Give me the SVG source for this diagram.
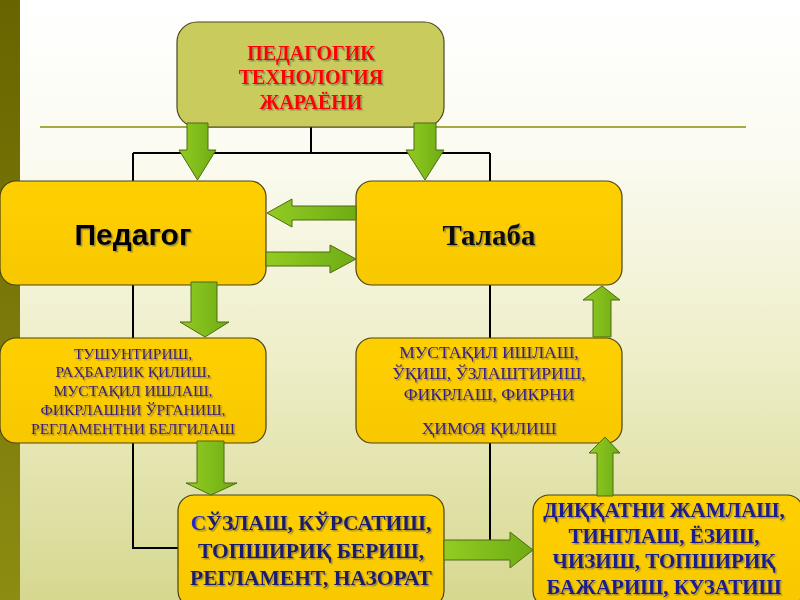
<svg xmlns="http://www.w3.org/2000/svg" width="800" height="600" viewBox="0 0 800 600">
<defs>
  <linearGradient id="bg" x1="0" y1="0" x2="0" y2="1">
    <stop offset="0" stop-color="#ffffff"/>
    <stop offset="0.25" stop-color="#fbfbf2"/>
    <stop offset="0.6" stop-color="#eeeec8"/>
    <stop offset="1" stop-color="#d6d890"/>
  </linearGradient>
  <linearGradient id="bar" x1="0" y1="0" x2="0" y2="1">
    <stop offset="0" stop-color="#686400"/>
    <stop offset="1" stop-color="#8c8c12"/>
  </linearGradient>
  <linearGradient id="gold" x1="0" y1="0" x2="0" y2="1">
    <stop offset="0" stop-color="#ffd000"/>
    <stop offset="1" stop-color="#f8c800"/>
  </linearGradient>
  <linearGradient id="grn" x1="0" y1="0" x2="1" y2="0">
    <stop offset="0" stop-color="#92cc22"/>
    <stop offset="1" stop-color="#6eac14"/>
  </linearGradient>
  <filter id="sh" x="-10%" y="-20%" width="120%" height="140%">
    <feDropShadow dx="1.5" dy="1.5" stdDeviation="0.6" flood-color="#555" flood-opacity="0.55"/>
  </filter>
  <style>
    .box{fill:url(#gold);stroke:#4a4410;stroke-width:1.2}
    .top{fill:#c9cc5c;stroke:#4a4a20;stroke-width:1.2}
    .line{fill:none;stroke:#000;stroke-width:2}
    .arr{fill:url(#grn);stroke:#4f6a10;stroke-width:1}
    .t{text-anchor:middle;filter:url(#sh)}
    .red{font-family:"Liberation Serif",serif;font-weight:bold;font-size:20px;fill:#ff0000}
    .small{font-family:"Liberation Serif",serif;font-size:15.5px;fill:#3e1a78}
    .med{font-family:"Liberation Serif",serif;font-size:17.5px;fill:#3a1a88}
    .big{font-family:"Liberation Serif",serif;font-weight:bold;font-size:21.5px;fill:#1e1e6e}
    .big2{font-family:"Liberation Serif",serif;font-weight:bold;font-size:21px;fill:#1a1a90}
  </style>
</defs>
<rect x="0" y="0" width="800" height="600" fill="url(#bg)"/>
<rect x="0" y="0" width="20" height="600" fill="url(#bar)"/>
<line x1="40" y1="127" x2="746" y2="127" stroke="#a6a840" stroke-width="2"/>

<g id="connector-lines">
  <path class="line" d="M311,127 V153 M133,153 H490 M133,153 V181 M490,153 V181"/>
  <path class="line" d="M133,285 V338 M133,443 V548 H179"/>
  <path class="line" d="M490,285 V338 M490,443 V541"/>
</g>

<g id="node-process">
  <rect class="top" x="177" y="22" width="267" height="105" rx="20"/>
  <text class="t red" x="311" y="60">ПЕДАГОГИК</text>
  <text class="t red" x="311" y="84">ТЕХНОЛОГИЯ</text>
  <text class="t red" x="311" y="109">ЖАРАЁНИ</text>
</g>

<g id="node-pedagog">
  <rect class="box" x="0" y="181" width="266" height="104" rx="16"/>
  <text class="t" x="133" y="245" style="font-family:'Liberation Sans',sans-serif;font-weight:bold;font-size:30px;fill:#000">Педагог</text>
</g>

<g id="node-talaba">
  <rect class="box" x="356" y="181" width="266" height="104" rx="16"/>
  <text class="t" x="489" y="245" style="font-family:'Liberation Serif',serif;font-weight:bold;font-size:29px;fill:#111">Талаба</text>
</g>

<g id="node-teacher-actions">
  <rect class="box" x="0" y="338" width="266" height="105" rx="16"/>
  <text class="t small" x="133" y="359">ТУШУНТИРИШ,</text>
  <text class="t small" x="133" y="377">РАҲБАРЛИК ҚИЛИШ,</text>
  <text class="t small" x="133" y="396">МУСТАҚИЛ ИШЛАШ,</text>
  <text class="t small" x="133" y="415">ФИКРЛАШНИ  ЎРГАНИШ,</text>
  <text class="t small" x="133" y="434">РЕГЛАМЕНТНИ БЕЛГИЛАШ</text>
</g>

<g id="node-student-actions">
  <rect class="box" x="356" y="338" width="266" height="105" rx="16"/>
  <text class="t med" x="489" y="358">МУСТАҚИЛ ИШЛАШ,</text>
  <text class="t med" x="489" y="379">ЎҚИШ, ЎЗЛАШТИРИШ,</text>
  <text class="t med" x="489" y="400">ФИКРЛАШ, ФИКРНИ</text>
  <text class="t med" x="489" y="434">ҲИМОЯ ҚИЛИШ</text>
</g>

<g id="node-teacher-methods">
  <rect class="box" x="178" y="495" width="266" height="112" rx="16"/>
  <text class="t big" x="311" y="530"><tspan fill="#2828c8">С</tspan>ЎЗЛАШ, КЎРСАТИШ,</text>
  <text class="t big" x="311" y="558">ТОПШИРИҚ БЕРИШ,</text>
  <text class="t big" x="311" y="585">РЕГЛАМЕНТ, НАЗОРАТ</text>
</g>

<g id="node-student-methods">
  <rect class="box" x="533" y="495" width="270" height="112" rx="16"/>
  <text class="t big2" x="664" y="517">ДИҚҚАТНИ ЖАМЛАШ,</text>
  <text class="t big2" x="664" y="543">ТИНГЛАШ, ЁЗИШ,</text>
  <text class="t big2" x="664" y="568">ЧИЗИШ, ТОПШИРИҚ</text>
  <text class="t big2" x="664" y="594">БАЖАРИШ, КУЗАТИШ</text>
</g>

<g id="connector-arrows">
  <polygon class="arr" points="187,123 208,123 208,150 216,150 197.5,180 179,150 187,150"/>
  <polygon class="arr" points="414,123 436,123 436,150 444,150 425,180 406,150 414,150"/>
  <polygon class="arr" points="356,206 292,206 292,199 267,213 292,227 292,220 356,220"/>
  <polygon class="arr" points="266,252 330,252 330,245 356,259 330,273 330,266 266,266"/>
  <polygon class="arr" points="191,282 217,282 217,322 229,322 205,337 180,322 191,322"/>
  <polygon class="arr" points="593,337 611,337 611,300 620,300 602,286 583,300 593,300"/>
  <polygon class="arr" points="197,441 224,441 224,483 237,483 211,495 186,483 197,483"/>
  <polygon class="arr" points="597,496 613,496 613,453 620,453 605,437 589,453 597,453"/>
  <polygon class="arr" points="444,540 510,540 510,532 533,550 510,568 510,560 444,560"/>
</g>
</svg>
